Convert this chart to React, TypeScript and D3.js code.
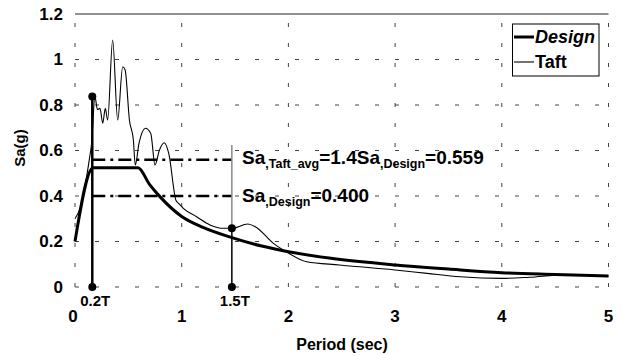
import React from 'react';
import * as d3 from 'd3';

// axis ticks
const periodTicks = [0, 1, 2, 3, 4, 5];
const saTicks = [0, 0.2, 0.4, 0.6, 0.8, 1, 1.2];

// design spectrum
const designPeriod = [0, 0.17, 0.59, 0.7, 0.8, 1.0, 1.2, 1.47, 1.75, 2.0, 2.4, 3.0, 3.5, 4.0, 4.5, 5.0];
const designSa = [0.2, 0.524, 0.524, 0.45, 0.395, 0.31, 0.262, 0.217, 0.18, 0.155, 0.126, 0.097, 0.079, 0.063, 0.055, 0.048];

// Taft record spectrum
const taftPeriod = [0, 0.05, 0.134, 0.156, 0.187, 0.21, 0.234, 0.26, 0.284, 0.306, 0.353, 0.4, 0.447, 0.47, 0.51, 0.547, 0.565, 0.6, 0.66, 0.71, 0.75, 0.79, 0.837, 0.878, 0.947, 0.97, 1.015, 1.14, 1.265, 1.39, 1.47, 1.62, 1.69, 1.86, 1.98, 2.17, 2.48, 3.0, 3.3, 3.61, 4.0, 4.26, 4.58, 5.0];
const taftSa = [0.3, 0.35, 0.56, 0.633, 0.837, 0.78, 0.785, 0.72, 0.785, 0.734, 1.086, 0.734, 0.968, 0.954, 0.734, 0.646, 0.536, 0.632, 0.698, 0.675, 0.536, 0.6, 0.634, 0.588, 0.38, 0.368, 0.346, 0.309, 0.273, 0.258, 0.258, 0.277, 0.265, 0.192, 0.155, 0.111, 0.097, 0.075, 0.06, 0.045, 0.038, 0.043, 0.053, 0.048];

// markers
const markerPeriods = [0.162, 1.47];
const markerLabels = ['0.2T', '1.5T'];
const markerTops = [0.837, 0.258];
const taftAvg = 0.559;
const designLevel = 0.4;

const font = '"Liberation Sans", Arial, sans-serif';

export default function App() {
  const x = d3.scaleLinear().domain([0, 5]).range([75, 608.5]);
  const y = d3.scaleLinear().domain([0, 1.2]).range([287, 14]);

  const designLine = d3
    .line<number>()
    .x((d, i) => x(designPeriod[i]))
    .y(d => y(d))
    .curve(d3.curveMonotoneX);
  const taftLine = d3
    .line<number>()
    .x((d, i) => x(taftPeriod[i]))
    .y(d => y(d))
    .curve(d3.curveMonotoneX);

  const grid = '#444';
  const x0 = x(markerPeriods[0]);
  const x1 = x(markerPeriods[1]);

  return (
    <svg width={622} height={356} style={{ position: 'absolute', left: 0, top: 0, background: '#fff' }} fontFamily={font}>
      {/* gridlines */}
      {saTicks.slice(0, -1).map(t => (
        <line key={'h' + t} x1={x(0)} x2={x(5)} y1={y(t)} y2={y(t)} stroke={grid} strokeDasharray="4,16" />
      ))}
      <line x1={x(0)} x2={x(5)} y1={y(1.2)} y2={y(1.2)} stroke="#222" strokeWidth={1} />
      {periodTicks.map(t => (
        <line key={'v' + t} x1={x(t)} x2={x(t)} y1={y(0)} y2={y(1.2)} stroke={grid} strokeDasharray="4,16" />
      ))}

      {/* y tick labels */}
      {saTicks.map(t => (
        <text key={'yl' + t} x={63} y={y(t)} dy="0.35em" textAnchor="end" fontSize={17} fontWeight="bold">
          {d3.format('~g')(t)}
        </text>
      ))}
      {/* x tick labels */}
      {periodTicks.map(t => (
        <text key={'xl' + t} x={x(t) - (t === 0 ? 2 : 0)} y={322} textAnchor="middle" fontSize={17} fontWeight="bold">
          {t}
        </text>
      ))}

      {/* axis titles */}
      <text x={342} y={350} textAnchor="middle" fontSize={16} fontWeight="bold">Period (sec)</text>
      <text transform={`translate(25,${148}) rotate(-90)`} textAnchor="middle" fontSize={15} fontWeight="bold">Sa(g)</text>

      {/* reference dash-dot levels */}
      <line x1={x0} x2={x1} y1={y(taftAvg)} y2={y(taftAvg)} stroke="#000" strokeWidth={2.5} strokeDasharray="13,5,3,5" />
      <line x1={x0} x2={x1} y1={y(designLevel)} y2={y(designLevel)} stroke="#000" strokeWidth={2.5} strokeDasharray="13,5,3,5" />

      {/* 1.5T upper gray line */}
      <line x1={x1} x2={x1} y1={y(markerTops[1])} y2={y(0.624)} stroke="#888" strokeWidth={1.5} />

      {/* spectra */}
      <path d={taftLine(taftSa) || ''} fill="none" stroke="#000" strokeWidth={1.1} />
      <path d={designLine(designSa) || ''} fill="none" stroke="#000" strokeWidth={3} />

      {/* period markers */}
      {markerPeriods.map((p, i) => (
        <g key={'m' + i}>
          <line x1={x(p)} x2={x(p)} y1={y(0)} y2={y(markerTops[i])} stroke="#000" strokeWidth={i === 0 ? 2.5 : 1.5} />
          <circle cx={x(p)} cy={y(0)} r={4} fill="#000" />
          <circle cx={x(p)} cy={y(markerTops[i])} r={4} fill="#000" />
          <text x={x(p) + 3} y={306} textAnchor="middle" fontSize={15} fontWeight="bold">{markerLabels[i]}</text>
        </g>
      ))}

      {/* annotations */}
      <text x={242} y={164} fontSize={19} fontWeight="bold">
        Sa<tspan fontSize={12.5} dy={4}>,Taft_avg</tspan>
        <tspan dy={-4}>=1.4Sa</tspan>
        <tspan fontSize={12.5} dy={4}>,Design</tspan>
        <tspan dy={-4}>=0.559</tspan>
      </text>
      <text x={242} y={202} fontSize={19} fontWeight="bold">
        Sa<tspan fontSize={12.5} dy={4}>,Design</tspan>
        <tspan dy={-4}>=0.400</tspan>
      </text>

      {/* legend */}
      <rect x={512.5} y={24} width={86.5} height={52} fill="#fff" stroke="#000" strokeWidth={1} />
      <line x1={514} x2={534} y1={37} y2={37} stroke="#000" strokeWidth={3} />
      <text x={535} y={43} fontSize={18} fontWeight="bold" fontStyle="italic">Design</text>
      <line x1={514} x2={534} y1={62} y2={62} stroke="#000" strokeWidth={1.1} />
      <text x={535} y={68} fontSize={18} fontWeight="bold">Taft</text>
    </svg>
  );
}
